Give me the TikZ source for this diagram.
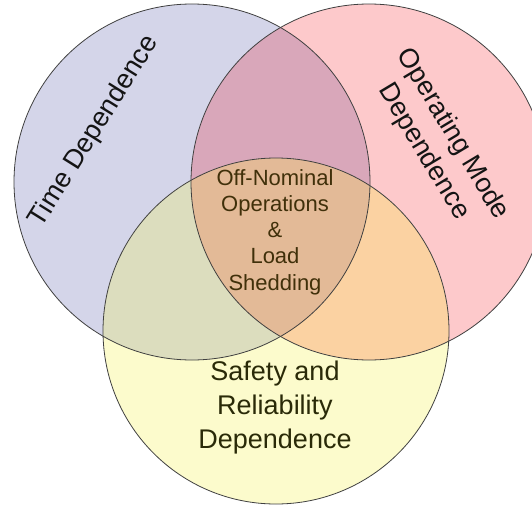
\documentclass[tikz,border=0pt]{standalone}
\usepackage{fontspec}
\setmainfont{Liberation Sans}
\definecolor{cL}{RGB}{212,213,233}
\definecolor{cR}{RGB}{253,201,203}
\definecolor{cB}{RGB}{252,251,204}
\definecolor{cLR}{RGB}{217,167,186}
\definecolor{cLB}{RGB}{220,221,190}
\definecolor{cRB}{RGB}{251,210,162}
\definecolor{cLRB}{RGB}{227,186,151}
\definecolor{tcenter}{RGB}{64,48,10}
\definecolor{tbottom}{RGB}{42,42,8}
\definecolor{tside}{RGB}{20,20,20}
\begin{document}
\begin{tikzpicture}[x=1pt,y=-1pt,
  ring/.style={draw=black!75, line width=0.8pt},
  bigtext/.style={font=\fontsize{27}{34}\selectfont, inner sep=0pt, align=center},
  midtext/.style={font=\fontsize{22}{26.25}\selectfont, inner sep=0pt, align=center, text=tcenter}]
\useasboundingbox (0,0) rectangle (532,508);
\fill[white] (0,0) rectangle (532,508);
\coordinate (L) at (192,182);
\coordinate (R) at (369,182);
\coordinate (B) at (276,331);
\def\rL{178pt}
\def\rR{178pt}
\def\rB{173pt}
\fill[cL] (L) circle[radius=\rL];
\fill[cR] (R) circle[radius=\rR];
\fill[cB] (B) circle[radius=\rB];
\begin{scope}
  \clip (L) circle[radius=\rL];
  \fill[cLR] (R) circle[radius=\rR];
  \fill[cLB] (B) circle[radius=\rB];
\end{scope}
\begin{scope}
  \clip (R) circle[radius=\rR];
  \fill[cRB] (B) circle[radius=\rB];
  \clip (L) circle[radius=\rL];
  \fill[cLRB] (B) circle[radius=\rB];
\end{scope}
\draw[ring] (L) circle[radius=\rL];
\draw[ring] (R) circle[radius=\rR];
\draw[ring] (B) circle[radius=\rB];
\node[bigtext, text=tside, rotate=58, text height=19pt, text depth=0pt] (time) at (92,130) {Time Dependence};
\node[bigtext, text=tside, rotate=-59] (mode) at (438,143) {Operating Mode\\Dependence};
\node[bigtext, text=tbottom, anchor=base] (safety) at (275,448) {Safety and\\Reliability\\Dependence};
\node[midtext, anchor=base] (core) at (275,290) {Off-Nominal\\Operations\\\&\\Load\\Shedding};
\end{tikzpicture}
\end{document}
